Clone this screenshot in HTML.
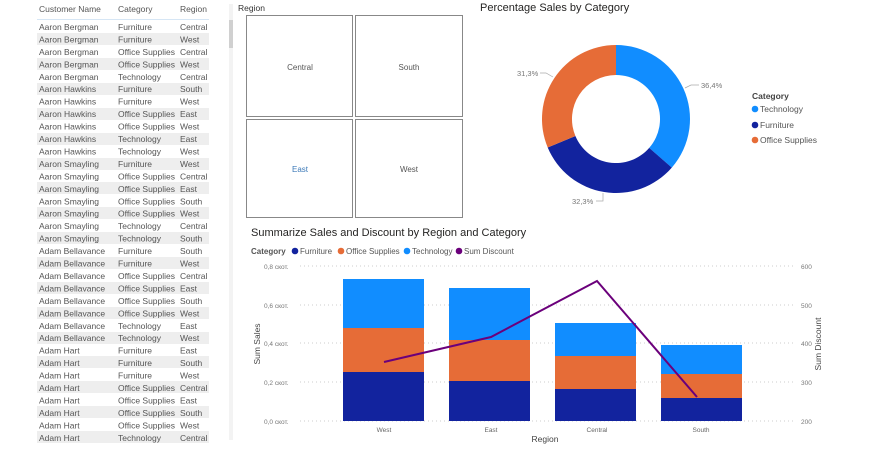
<!DOCTYPE html>
<html><head><meta charset="utf-8"><style>
body{margin:0;width:895px;height:446px;background:#fff;overflow:hidden;font-family:"Liberation Sans",sans-serif;}
</style></head><body>
<svg width="895" height="446" xmlns="http://www.w3.org/2000/svg" font-family="Liberation Sans, sans-serif">
<!-- table -->
<g font-size="8.5" fill="#555">
<text x="39" y="12">Customer Name</text><text x="118" y="12">Category</text><text x="180" y="12">Region</text>
<line x1="37" y1="19.5" x2="209" y2="19.5" stroke="#d6e6f5" stroke-width="1"/>
<g fill="#eeeeee">
<rect x="37" y="33" width="172" height="12"/><rect x="37" y="58" width="172" height="12"/><rect x="37" y="83" width="172" height="12"/><rect x="37" y="108" width="172" height="12"/><rect x="37" y="133" width="172" height="12"/><rect x="37" y="158" width="172" height="12"/><rect x="37" y="182" width="172" height="12"/><rect x="37" y="207" width="172" height="12"/><rect x="37" y="232" width="172" height="12"/><rect x="37" y="257" width="172" height="12"/><rect x="37" y="282" width="172" height="12"/><rect x="37" y="307" width="172" height="12"/><rect x="37" y="332" width="172" height="12"/><rect x="37" y="356" width="172" height="12"/><rect x="37" y="381" width="172" height="12"/><rect x="37" y="406" width="172" height="12"/><rect x="37" y="431" width="172" height="12"/>
</g>
<text x="39" y="30">Aaron Bergman</text><text x="118" y="30">Furniture</text><text x="180" y="30">Central</text>
<text x="39" y="42.4">Aaron Bergman</text><text x="118" y="42.4">Furniture</text><text x="180" y="42.4">West</text>
<text x="39" y="54.9">Aaron Bergman</text><text x="118" y="54.9">Office Supplies</text><text x="180" y="54.9">Central</text>
<text x="39" y="67.3">Aaron Bergman</text><text x="118" y="67.3">Office Supplies</text><text x="180" y="67.3">West</text>
<text x="39" y="79.8">Aaron Bergman</text><text x="118" y="79.8">Technology</text><text x="180" y="79.8">Central</text>
<text x="39" y="92.2">Aaron Hawkins</text><text x="118" y="92.2">Furniture</text><text x="180" y="92.2">South</text>
<text x="39" y="104.7">Aaron Hawkins</text><text x="118" y="104.7">Furniture</text><text x="180" y="104.7">West</text>
<text x="39" y="117.1">Aaron Hawkins</text><text x="118" y="117.1">Office Supplies</text><text x="180" y="117.1">East</text>
<text x="39" y="129.6">Aaron Hawkins</text><text x="118" y="129.6">Office Supplies</text><text x="180" y="129.6">West</text>
<text x="39" y="142">Aaron Hawkins</text><text x="118" y="142">Technology</text><text x="180" y="142">East</text>
<text x="39" y="154.5">Aaron Hawkins</text><text x="118" y="154.5">Technology</text><text x="180" y="154.5">West</text>
<text x="39" y="166.9">Aaron Smayling</text><text x="118" y="166.9">Furniture</text><text x="180" y="166.9">West</text>
<text x="39" y="179.4">Aaron Smayling</text><text x="118" y="179.4">Office Supplies</text><text x="180" y="179.4">Central</text>
<text x="39" y="191.8">Aaron Smayling</text><text x="118" y="191.8">Office Supplies</text><text x="180" y="191.8">East</text>
<text x="39" y="204.3">Aaron Smayling</text><text x="118" y="204.3">Office Supplies</text><text x="180" y="204.3">South</text>
<text x="39" y="216.7">Aaron Smayling</text><text x="118" y="216.7">Office Supplies</text><text x="180" y="216.7">West</text>
<text x="39" y="229.2">Aaron Smayling</text><text x="118" y="229.2">Technology</text><text x="180" y="229.2">Central</text>
<text x="39" y="241.6">Aaron Smayling</text><text x="118" y="241.6">Technology</text><text x="180" y="241.6">South</text>
<text x="39" y="254.1">Adam Bellavance</text><text x="118" y="254.1">Furniture</text><text x="180" y="254.1">South</text>
<text x="39" y="266.5">Adam Bellavance</text><text x="118" y="266.5">Furniture</text><text x="180" y="266.5">West</text>
<text x="39" y="279">Adam Bellavance</text><text x="118" y="279">Office Supplies</text><text x="180" y="279">Central</text>
<text x="39" y="291.4">Adam Bellavance</text><text x="118" y="291.4">Office Supplies</text><text x="180" y="291.4">East</text>
<text x="39" y="303.9">Adam Bellavance</text><text x="118" y="303.9">Office Supplies</text><text x="180" y="303.9">South</text>
<text x="39" y="316.3">Adam Bellavance</text><text x="118" y="316.3">Office Supplies</text><text x="180" y="316.3">West</text>
<text x="39" y="328.8">Adam Bellavance</text><text x="118" y="328.8">Technology</text><text x="180" y="328.8">East</text>
<text x="39" y="341.2">Adam Bellavance</text><text x="118" y="341.2">Technology</text><text x="180" y="341.2">West</text>
<text x="39" y="353.7">Adam Hart</text><text x="118" y="353.7">Furniture</text><text x="180" y="353.7">East</text>
<text x="39" y="366.1">Adam Hart</text><text x="118" y="366.1">Furniture</text><text x="180" y="366.1">South</text>
<text x="39" y="378.6">Adam Hart</text><text x="118" y="378.6">Furniture</text><text x="180" y="378.6">West</text>
<text x="39" y="391">Adam Hart</text><text x="118" y="391">Office Supplies</text><text x="180" y="391">Central</text>
<text x="39" y="403.5">Adam Hart</text><text x="118" y="403.5">Office Supplies</text><text x="180" y="403.5">East</text>
<text x="39" y="415.9">Adam Hart</text><text x="118" y="415.9">Office Supplies</text><text x="180" y="415.9">South</text>
<text x="39" y="428.4">Adam Hart</text><text x="118" y="428.4">Office Supplies</text><text x="180" y="428.4">West</text>
<text x="39" y="440.8">Adam Hart</text><text x="118" y="440.8">Technology</text><text x="180" y="440.8">Central</text>
</g>
<rect x="229" y="4" width="4" height="436" fill="#f3f3f3"/>
<rect x="229" y="20" width="4" height="28" fill="#d0d0d0"/>
<!-- matrix -->
<text x="238" y="11" font-size="8.5" fill="#333">Region</text>
<g fill="none" stroke="#888" stroke-width="1">
<rect x="246.5" y="15.5" width="106" height="101"/><rect x="355.5" y="15.5" width="107" height="101"/>
<rect x="246.5" y="119.5" width="106" height="98"/><rect x="355.5" y="119.5" width="107" height="98"/>
</g>
<g font-size="8" fill="#555" text-anchor="middle">
<text x="300" y="70">Central</text><text x="409" y="70">South</text>
<text x="300" y="172" fill="#3d7ab8">East</text><text x="409" y="172">West</text>
</g>
<!-- donut -->
<text x="480" y="11" font-size="11" fill="#252423">Percentage Sales by Category</text>
<path d="M616,45 A74,74 0 0 1 671.8,167.6 L649.2,147.9 A44,44 0 0 0 616,75 Z" fill="#118dff"/>
<path d="M671.8,167.6 A74,74 0 0 1 547.7,147.5 L575.4,136 A44,44 0 0 0 649.2,147.9 Z" fill="#12239e"/>
<path d="M547.7,147.5 A74,74 0 0 1 616,45 L616,75 A44,44 0 0 0 575.4,136 Z" fill="#e66c37"/>
<g stroke="#aaa" fill="none" stroke-width="0.7">
<path d="M685,88 L691,85 L699,85"/><path d="M553,77 L546,73 L540,73"/><path d="M603,193 L603,201 L596,201"/>
</g>
<g font-size="7.5" fill="#777">
<text x="701" y="88">36,4%</text><text x="517" y="76">31,3%</text><text x="572" y="204">32,3%</text>
</g>
<text x="752" y="99" font-size="8.5" font-weight="bold" fill="#444">Category</text>
<g font-size="8.5" fill="#555">
<circle cx="755" cy="109" r="3.3" fill="#118dff"/><text x="760" y="112">Technology</text>
<circle cx="755" cy="125" r="3.3" fill="#12239e"/><text x="760" y="128">Furniture</text>
<circle cx="755" cy="140" r="3.3" fill="#e66c37"/><text x="760" y="143">Office Supplies</text>
</g>
<!-- combo chart -->
<text x="251" y="236" font-size="11" fill="#252423">Summarize Sales and Discount by Region and Category</text>
<g font-size="8" fill="#555">
<text x="251" y="254" font-weight="bold">Category</text>
<circle cx="295" cy="251" r="3.3" fill="#12239e"/><text x="300" y="254">Furniture</text>
<circle cx="341" cy="251" r="3.3" fill="#e66c37"/><text x="346" y="254">Office Supplies</text>
<circle cx="407" cy="251" r="3.3" fill="#118dff"/><text x="412" y="254">Technology</text>
<circle cx="459" cy="251" r="3.3" fill="#6b007b"/><text x="464" y="254">Sum Discount</text>
</g>
<g stroke="#ccc" stroke-dasharray="1,3" stroke-width="1">
<line x1="300" y1="266" x2="795" y2="266"/><line x1="300" y1="305" x2="795" y2="305"/><line x1="300" y1="343" x2="795" y2="343"/><line x1="300" y1="382" x2="795" y2="382"/><line x1="300" y1="421" x2="795" y2="421"/>
</g>
<g font-size="6.5" fill="#777">
<text x="264" y="269">0,8 скот.</text><text x="264" y="308">0,6 скот.</text><text x="264" y="346">0,4 скот.</text><text x="264" y="385">0,2 скот.</text><text x="264" y="424">0,0 скот.</text>
<text x="801" y="269">600</text><text x="801" y="308">500</text><text x="801" y="346">400</text><text x="801" y="385">300</text><text x="801" y="424">200</text>
</g>
<g>
<rect x="343" y="372" width="81" height="49" fill="#12239e"/><rect x="343" y="328" width="81" height="44" fill="#e66c37"/><rect x="343" y="279" width="81" height="49" fill="#118dff"/>
<rect x="449" y="381" width="81" height="40" fill="#12239e"/><rect x="449" y="340" width="81" height="41" fill="#e66c37"/><rect x="449" y="288" width="81" height="52" fill="#118dff"/>
<rect x="555" y="389" width="81" height="32" fill="#12239e"/><rect x="555" y="356" width="81" height="33" fill="#e66c37"/><rect x="555" y="323" width="81" height="33" fill="#118dff"/>
<rect x="661" y="398" width="81" height="23" fill="#12239e"/><rect x="661" y="374" width="81" height="24" fill="#e66c37"/><rect x="661" y="345" width="81" height="29" fill="#118dff"/>
</g>
<polyline points="384,362 491,337 597,281 697,397" fill="none" stroke="#6b007b" stroke-width="2"/>
<g font-size="6.5" fill="#666" text-anchor="middle">
<text x="384" y="432">West</text><text x="491" y="432">East</text><text x="597" y="432">Central</text><text x="701" y="432">South</text>
</g>
<text x="545" y="442" font-size="8.5" fill="#444" text-anchor="middle">Region</text>
<text transform="translate(260,344) rotate(-90)" font-size="8.5" fill="#444" text-anchor="middle">Sum Sales</text>
<text transform="translate(821,344) rotate(-90)" font-size="8.5" fill="#444" text-anchor="middle">Sum Discount</text>
</svg>
</body></html>
